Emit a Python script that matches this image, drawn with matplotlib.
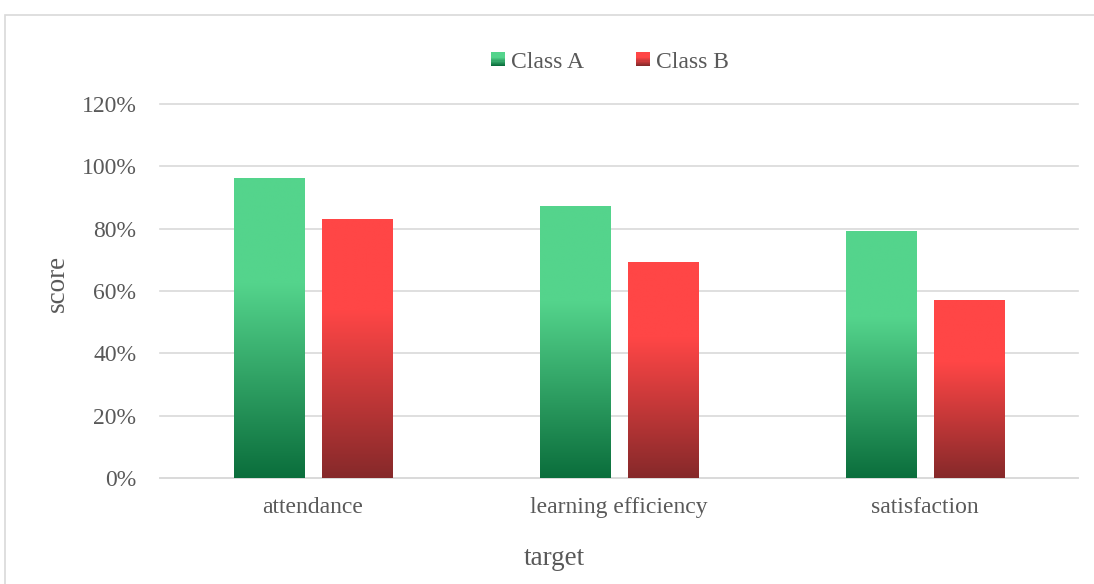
import matplotlib
matplotlib.use("Agg")
import matplotlib.pyplot as plt
import numpy as np
from matplotlib.colors import LinearSegmentedColormap
from matplotlib.patches import Rectangle
from matplotlib.legend_handler import HandlerBase

# Data
categories = ["attendance", "learning efficiency", "satisfaction"]
series_names = ["Class A", "Class B"]
class_a = [0.96, 0.87, 0.79]
class_b = [0.83, 0.69, 0.57]
y_ticks = [0, 0.2, 0.4, 0.6, 0.8, 1.0, 1.2]

# Colours (dark bottom -> light top)
green = ["#0B6E3C", "#54D48C"]
red = ["#86292A", "#FF4646"]
text_color = "#595959"
grid_color = "#D9D9D9"

plt.rcParams["font.family"] = ["Liberation Serif", "DejaVu Serif"]


def make_cmap(colors):
    dark, light = colors
    return LinearSegmentedColormap.from_list(
        "g", [(0.0, dark), (0.65, light), (1.0, light)])


def gradient_bars(ax, rects, cmap):
    grad = np.linspace(0, 1, 256).reshape(-1, 1)
    for r in rects:
        x0, y0 = r.get_x(), r.get_y()
        w, h = r.get_width(), r.get_height()
        ax.imshow(grad, cmap=cmap, origin="lower", aspect="auto",
                  extent=(x0, x0 + w, y0, y0 + h), zorder=3,
                  interpolation="bilinear")
        r.set_facecolor("none")
        r.set_edgecolor("none")


class GradientHandler(HandlerBase):
    def __init__(self, cmap):
        super().__init__()
        self.cmap = cmap

    def create_artists(self, legend, orig_handle, xdescent, ydescent,
                       width, height, fontsize, trans):
        n = 12
        side = min(width, height * 1.1)
        x0 = -xdescent + (width - side) / 2
        y0 = -ydescent + (height - side) / 2
        arts = []
        for i in range(n):
            c = self.cmap(i / (n - 1))
            arts.append(Rectangle((x0, y0 + side * i / n), side, side / n + 0.2,
                                  facecolor=c, edgecolor="none",
                                  transform=trans))
        return arts


fig = plt.figure(figsize=(10.94, 5.84), dpi=100)
ax = fig.add_axes([160 / 1094, 1 - 478 / 584, 918 / 1094, 374 / 584])

x = np.arange(len(categories))
width = 0.229
offset = 0.143
cmap_a = make_cmap(green)
cmap_b = make_cmap(red)
bars_a = ax.bar(x - offset, class_a, width, label=series_names[0], zorder=3)
bars_b = ax.bar(x + offset, class_b, width, label=series_names[1], zorder=3)
gradient_bars(ax, bars_a, cmap_a)
gradient_bars(ax, bars_b, cmap_b)

ax.set_xlim(-0.5, len(categories) - 0.5)
ax.set_ylim(0, 1.2)
ax.set_yticks(y_ticks)
ax.set_yticklabels([f"{int(round(v * 100))}%" for v in y_ticks])
ax.set_xticks(x)
ax.set_xticklabels(categories)
ax.tick_params(axis="both", length=0, labelsize=17, colors=text_color)
ax.tick_params(axis="y", pad=17)
ax.tick_params(axis="x", pad=14)

ax.yaxis.grid(True, color=grid_color, linewidth=1.2, zorder=0)
for gl in ax.yaxis.get_gridlines():
    gl.set_clip_on(False)
ax.set_axisbelow(True)
for s in ["top", "right", "left"]:
    ax.spines[s].set_visible(False)
ax.spines["bottom"].set_color(grid_color)
ax.spines["bottom"].set_linewidth(1.2)

ax.set_ylabel("score", fontsize=19.5, color=text_color)
ax.set_xlabel("target", fontsize=19.5, color=text_color)
ax.yaxis.set_label_coords(-0.112, 0.52)
ax.yaxis.label.set_va("center")
ax.xaxis.set_label_coords(0.43, -0.214)
ax.xaxis.label.set_va("center")

fig.legend(handles=[bars_a, bars_b], labels=series_names,
           handler_map={bars_a: GradientHandler(cmap_a),
                        bars_b: GradientHandler(cmap_b)},
           loc="center", bbox_to_anchor=(610 / 1094, 1 - 62 / 584), ncol=2,
           frameon=False, fontsize=17, labelcolor=text_color,
           handlelength=0.6, handleheight=0.6, handletextpad=0.25,
           columnspacing=2.2)

# chart area border
fig.patches.append(Rectangle((5 / 1094, -0.1), 2, (584 - 15) / 584 + 0.1,
                             transform=fig.transFigure, fill=False,
                             edgecolor=grid_color, linewidth=1.2))

fig.savefig("out.png", dpi=100)
